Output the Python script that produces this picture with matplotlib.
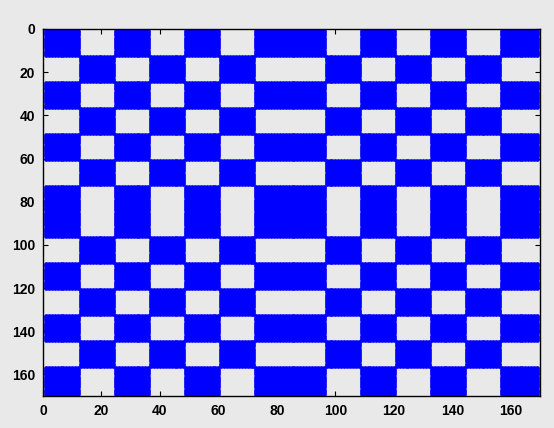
import numpy as np
import matplotlib
matplotlib.use("Agg")
import matplotlib.pyplot as plt

# Block structure of the sparse matrix (sizes of the row/column groups, 1-based indices)
group_sizes = [12, 12, 12, 12, 12, 12, 24, 12, 12, 12, 12, 12, 13]
# Which group pairs are nonzero (1 = filled block)
block_pattern = [
    [1,0,1,0,1,0,1,0,1,0,1,0,1],
    [0,1,0,1,0,1,0,1,0,1,0,1,0],
    [1,0,1,0,1,0,1,0,1,0,1,0,1],
    [0,1,0,1,0,1,0,1,0,1,0,1,0],
    [1,0,1,0,1,0,1,0,1,0,1,0,1],
    [0,1,0,1,0,1,0,1,0,1,0,1,0],
    [1,0,1,0,1,0,1,0,1,0,1,0,1],
    [0,1,0,1,0,1,0,1,0,1,0,1,0],
    [1,0,1,0,1,0,1,0,1,0,1,0,1],
    [0,1,0,1,0,1,0,1,0,1,0,1,0],
    [1,0,1,0,1,0,1,0,1,0,1,0,1],
    [0,1,0,1,0,1,0,1,0,1,0,1,0],
    [1,0,1,0,1,0,1,0,1,0,1,0,1],
]
tick_values = [0, 20, 40, 60, 80, 100, 120, 140, 160]

n = sum(group_sizes)
starts = np.concatenate([[1], 1 + np.cumsum(group_sizes)[:-1]])
M = np.zeros((n, n), dtype=bool)
for gi, (si, li) in enumerate(zip(starts, group_sizes)):
    for gj, (sj, lj) in enumerate(zip(starts, group_sizes)):
        if block_pattern[gi][gj]:
            M[si - 1:si - 1 + li, sj - 1:sj - 1 + lj] = True
rows, cols = np.nonzero(M)

bg = "#e9e9e9"
fig = plt.figure(figsize=(5.54, 4.28), dpi=100, facecolor=bg)
ax = fig.add_axes([43/554, 1 - 396/428, (540 - 43)/554, (396 - 29)/428])
ax.set_facecolor(bg)
ln, = ax.plot(cols + 1, rows + 1, linestyle="none", marker="o", markersize=3.4,
              markeredgewidth=0, color="#0000ff")
ln.set_antialiased(False)
ax.set_xlim(0, n + 1)
ax.set_ylim(n + 1, 0)
ax.set_xticks(tick_values)
ax.set_yticks(tick_values)
ax.tick_params(direction="in", length=3.3, width=0.8, top=True, right=True,
               labelsize=10, pad=5.5, colors="black")
for lab in ax.get_xticklabels() + ax.get_yticklabels():
    lab.set_fontfamily("Liberation Sans")
    lab.set_fontweight("bold")
for sp in ax.spines.values():
    sp.set_linewidth(1.0)
    sp.set_color("black")

fig.savefig("out.png", dpi=100, facecolor=bg)
